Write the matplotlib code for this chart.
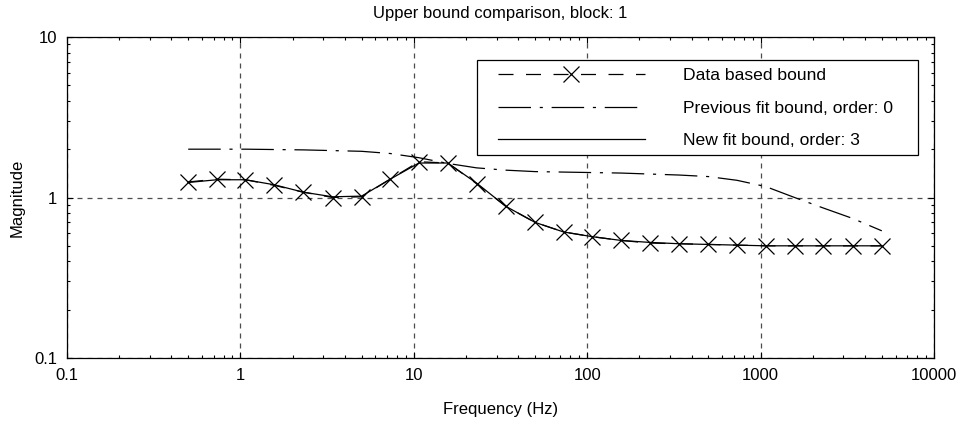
import matplotlib
matplotlib.use('Agg')
import matplotlib.pyplot as plt
from matplotlib.patches import Rectangle

plt.rcParams['font.family'] = ['Liberation Sans', 'DejaVu Sans']

# frequencies (Hz) of the data points
freq = [0.5, 0.73, 1.07, 1.57, 2.3, 3.4, 5.0, 7.3, 10.7, 15.7, 23, 34, 50,
        73, 107, 157, 230, 340, 500, 730, 1070, 1570, 2300, 3400, 5000]
# data based bound
data_bound = [1.25, 1.30, 1.29, 1.19, 1.08, 1.00, 1.01, 1.30, 1.67, 1.64, 1.22,
              0.88, 0.70, 0.61, 0.57, 0.54, 0.52, 0.515, 0.51, 0.505, 0.50,
              0.50, 0.50, 0.50, 0.50]
# previous fit, order 0
prev_fit = [2.0, 2.0, 2.0, 1.99, 1.98, 1.96, 1.94, 1.88, 1.77, 1.63, 1.53,
            1.48, 1.45, 1.44, 1.43, 1.42, 1.40, 1.38, 1.35, 1.28, 1.17,
            1.00, 0.86, 0.74, 0.62]
# new fit, order 3
new_fit = [1.24, 1.29, 1.29, 1.20, 1.08, 1.01, 1.02, 1.30, 1.64, 1.64, 1.23,
           0.88, 0.70, 0.61, 0.57, 0.54, 0.525, 0.515, 0.51, 0.505, 0.50,
           0.50, 0.50, 0.50, 0.50]

fig = plt.figure(figsize=(9.64, 4.24), dpi=100)
ax = fig.add_axes([67 / 964, 1 - 358 / 424, 867 / 964, 321 / 424])

ax.plot(freq, data_bound, color='black', lw=0.9, ls=(0, (12, 10)),
        marker='x', ms=11, mew=0.9, label='Data based bound')
ax.plot(freq, prev_fit, color='black', lw=0.9, ls=(0, (26, 7, 2.5, 7)),
        label='Previous fit bound, order: 0')
ax.plot(freq, new_fit, color='black', lw=0.9, label='New fit bound, order: 3')

ax.set_xscale('log')
ax.set_yscale('log')
ax.set_xlim(0.1, 10000)
ax.set_ylim(0.1, 10)
ax.set_xticks([0.1, 1, 10, 100, 1000, 10000])
ax.set_xticklabels(['0.1', '1', '10', '100', '1000', '10000'])
ax.set_yticks([0.1, 1, 10])
ax.set_yticklabels(['0.1', '1', '10'])

ax.grid(True, which='major', color='0.3', ls=(0, (4, 4)), lw=0.9)
ax.tick_params(which='both', direction='in', top=True, right=True,
               labelsize=12, width=0.8)
ax.tick_params(which='major', length=4, pad=7)
ax.tick_params(which='minor', length=2.5)
for s in ax.spines.values():
    s.set_linewidth(0.9)

ax.set_title('Upper bound comparison, block: 1', fontsize=12, pad=14)
ax.set_xlabel('Frequency (Hz)', fontsize=12, labelpad=14)
ax.set_ylabel('Magnitude', fontsize=12, labelpad=7)

# legend box drawn separately (wider side padding than legend allows)
box = Rectangle((0.473, 0.632), 0.5085, 0.296, transform=ax.transAxes,
                facecolor='white', edgecolor='black', lw=0.9, zorder=4)
ax.add_patch(box)
leg = ax.legend(loc='upper left', bbox_to_anchor=(0.497, 0.903), fontsize=12.6,
                handlelength=8.4, handletextpad=2.2, labelspacing=0.98,
                borderpad=0, borderaxespad=0, frameon=False)
leg.set_zorder(5)

fig.savefig('out.png', dpi=100)
